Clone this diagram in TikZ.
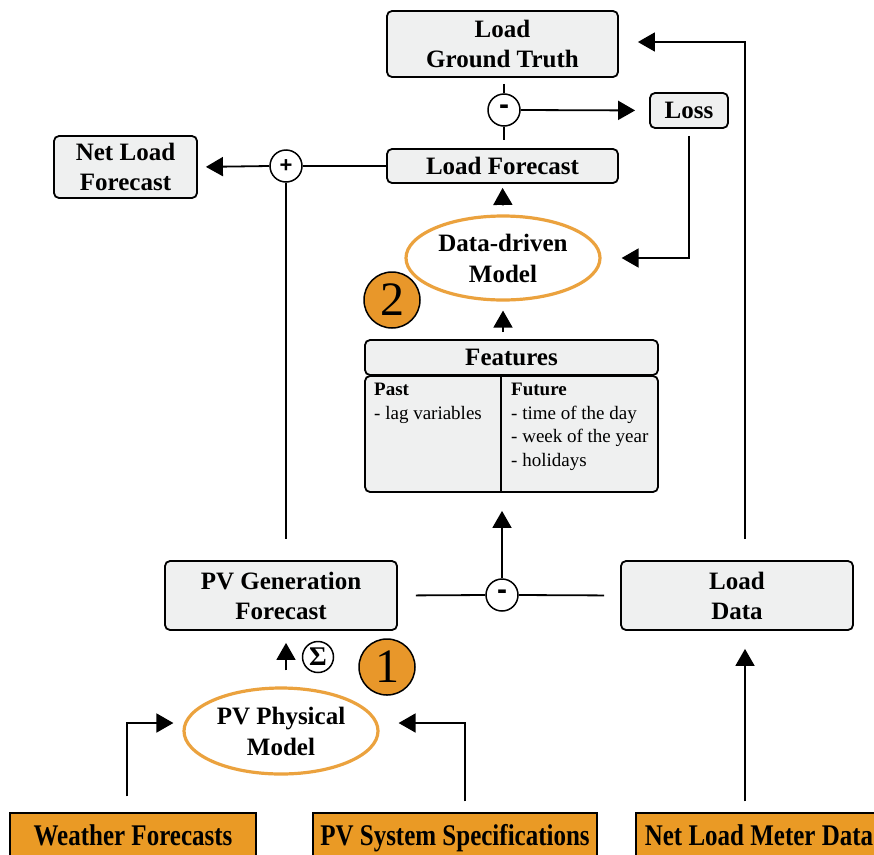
\documentclass[tikz,border=0pt]{standalone}
\usepackage{fontspec}
\setmainfont{Liberation Serif}
\newfontfamily\opfont{Liberation Sans}
\usetikzlibrary{arrows.meta,shapes.geometric,calc}
\definecolor{boxgray}{HTML}{EFF0F0}
\definecolor{ellorange}{HTML}{EBA23E}
\definecolor{srcorange}{HTML}{EA9A25}
\definecolor{badgeorange}{HTML}{E8972A}
\begin{document}
\begin{tikzpicture}[x=1pt,y=-1pt,
  box/.style={draw=black,line width=1.8pt,rounded corners=5pt,fill=boxgray,align=center,inner sep=0pt,font=\bfseries\fontsize{25}{30}\selectfont},
  ell/.style={ellipse,draw=ellorange,line width=3.2pt,fill=white,align=center,inner sep=0pt,font=\bfseries\fontsize{25}{31}\selectfont},
  op/.style={circle,draw=black,line width=1.5pt,fill=white,minimum size=32pt,inner sep=0pt,font=\opfont\bfseries\fontsize{30}{30}\selectfont},
  badge/.style={circle,draw=black,line width=1.5pt,fill=badgeorange,minimum size=56pt,inner sep=0pt,font=\fontsize{48}{48}\selectfont},
  src/.style={draw=black,line width=1.2pt,fill=srcorange,minimum height=45pt,inner sep=0pt,text height=22pt,text depth=3pt,font=\bfseries\fontsize{25}{30}\selectfont},
  small/.style={anchor=north west,align=left,inner sep=0pt,font=\fontsize{19}{23.5}\selectfont},
  conn/.style={line width=1.8pt},
  arr/.style={line width=1.8pt,-{Triangle[length=17pt,width=19pt]}}
]
\useasboundingbox (0,0) rectangle (874,854);

% nodes
\node[box,minimum width=231pt,minimum height=66pt] (lgt) at (502.5,44) {Load\\Ground Truth};
\node[box,minimum width=78pt,minimum height=35pt] (loss) at (689,110.5) {Loss};
\node[op] (m1) at (504,110) {-};
\node[box,minimum width=231pt,minimum height=34pt] (lf) at (502.5,166) {Load Forecast};
\node[box,minimum width=143pt,minimum height=62pt] (nlf) at (125.5,167) {Net Load\\Forecast};
\node[op,font=\opfont\bfseries\fontsize{22}{22}\selectfont] (plus) at (286,166) {+};
\node[ell,minimum width=194pt,minimum height=84pt] (ddm) at (503,258) {Data-driven\\Model};
\node[badge] (b2) at (392,300) {2};
\node[box,minimum width=293pt,minimum height=35pt] (feat) at (511.5,357.5) {Features};
\node[box,minimum width=293pt,minimum height=116pt] (fbody) at (511.5,434) {};
\draw[line width=1.2pt] ([xshift=-10.5pt]fbody.north) -- ([xshift=-10.5pt]fbody.south);
\node[small] (past) at (374,383) {\textbf{Past}\\- lag variables};
\node[small] (future) at (511,383) {\textbf{Future}\\- time of the day\\- week of the year\\- holidays};
\node[box,minimum width=232pt,minimum height=69pt] (pvg) at (281,595.5) {PV Generation\\Forecast};
\node[op] (m2) at (502,595) {-};
\node[box,minimum width=232pt,minimum height=69pt] (ld) at (737,595.5) {Load\\Data};
\node[op,minimum size=31pt,font=\bfseries\fontsize{27}{27}\selectfont] (sig) at (318,657) {Σ};
\node[badge] (b1) at (387,667) {1};
\node[ell,minimum width=194pt,minimum height=86pt] (pvp) at (281,731) {PV Physical\\Model};
\node[src,minimum width=246pt] (wf) at (133,835.5) {\scalebox{1}[1.2]{Weather Forecasts}};
\node[src,minimum width=284pt] (pvs) at (455,835.5) {\scalebox{1}[1.2]{PV System Specifications}};
\node[src,minimum width=246pt] (nlm) at (759,835.5) {\scalebox{1}[1.2]{Net Load Meter Data}};

% connectors
\draw[conn,shorten <=6pt] (m1.north |- lgt.south) -- (m1.north);
\draw[conn,shorten >=8pt] (m1.south) -- (m1.south |- lf.north);
\draw[arr,shorten >=14pt] (m1.east) -- (loss.west);
\draw[arr,shorten <=7pt,shorten >=20pt] (loss.south) |- (ddm.east);
\draw[arr,shorten <=9pt,shorten >=4pt] (ddm.north) -- (lf.south);
\draw[arr,shorten <=7pt,shorten >=9pt] (ddm.south |- feat.north) -- (ddm.south);
\draw[conn] (lf.west) -- (plus.east);
\draw[arr,shorten >=8pt] (plus.west) -- (nlf.east);
\draw[conn,shorten >=21pt] (plus.south) -- (plus.south |- pvg.north);
\draw[conn,shorten <=18pt] (pvg.east) -- (m2.west);
\draw[conn,shorten >=16pt] (m2.east) -- (ld.west);
\draw[arr,shorten >=18pt] (m2.north) -- (m2.north |- fbody.south);
\draw[arr,shorten <=16pt,shorten >=12pt] (plus.south |- pvp.north) -- (plus.south |- pvg.south);
\draw[arr,shorten <=16pt,shorten >=9pt] ([xshift=-6pt]wf.north) |- ([yshift=8pt]pvp.west);
\draw[arr,shorten <=11pt,shorten >=19pt] ([xshift=10pt]pvs.north) |- ([yshift=8pt]pvp.east);
\draw[arr,shorten <=11pt,shorten >=18pt] ([xshift=-14pt]nlm.north) -- ([xshift=-14pt]nlm.north |- ld.south);
\draw[arr,shorten <=21pt,shorten >=19pt] ([xshift=8pt]ld.north) |- ([yshift=2pt]lgt.east);
\end{tikzpicture}
\end{document}
